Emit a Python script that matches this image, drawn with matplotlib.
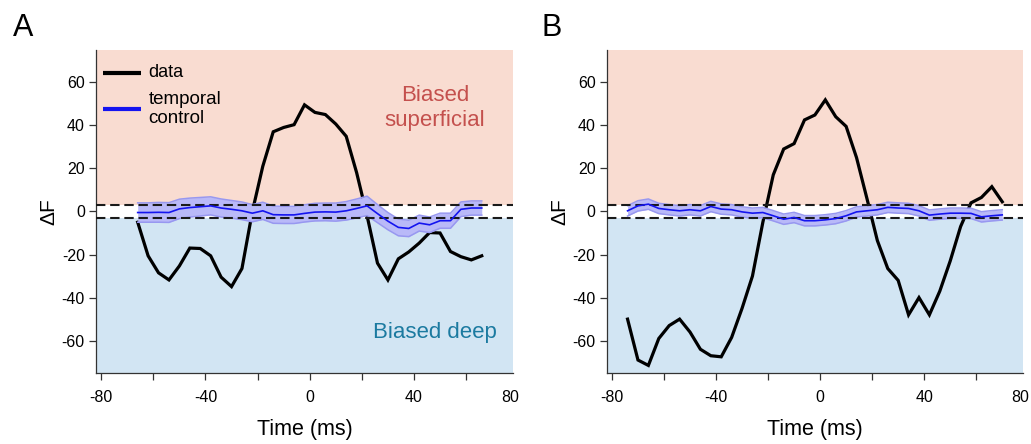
import numpy as np
import matplotlib.pyplot as plt

plt.rcParams['font.family'] = ['Liberation Sans', 'DejaVu Sans']
plt.rcParams['axes.unicode_minus'] = False

# panel A: time axis (ms) and traces
t_a = np.arange(-66, 67, 4)
data_a = [-5, -20.6, -28.5, -31.8, -25.3, -17, -17.2, -20.6, -30.5, -34.9,
          -26.5, 0, 21, 37, 39, 40.3, 49.5, 46, 45, 40.6, 34.9, 18, -2,
          -24, -31.8, -22, -18.8, -14.7, -9.8, -10, -18.6, -21, -22.5, -20.6]
ctrl_a = [-0.5, -0.5, -0.4, -0.5, 1.2, 1.8, 2.2, 2.6, 1.6, 1.0, 0.3, -0.8,
          0.3, -1.5, -1.6, -1.6, -0.9, -0.3, -0.2, -0.3, 0.3, 1.4, 2.6, -1.0,
          -4.5, -7.4, -7.9, -5.4, -6.2, -4.3, -4.3, 1.0, 1.6, 1.6]
err_a = [4.5, 4.5, 4.6, 4.6, 4.5, 4.4, 4.3, 4.2, 4.2, 4.1, 4.1, 4.0, 4.0, 4.0,
         4.0, 4.0, 4.0, 4.1, 4.1, 4.2, 4.3, 4.4, 4.5, 4.2, 4.0, 3.9, 3.8, 3.7,
         3.6, 3.5, 3.5, 3.4, 3.3, 3.3]

# panel B
t_b = np.arange(-74, 71, 4)
data_b = [-50, -69, -71.5, -59, -53, -50, -56, -64, -67, -67.5, -58.5, -45,
          -30, -5, 17, 29, 31.5, 42.5, 44.8, 51.8, 44, 39.5, 25, 6, -13.5,
          -26.5, -32, -48, -40, -48, -37, -23, -7, 4, 6.5, 11.5, 4.5]
ctrl_b = [0.3, 2.6, 3.4, 1.4, 0.8, 0.3, 0.8, 0.3, 2.3, 1.1, 0.8, -0.2, -0.8,
          -0.5, -2.0, -3.6, -2.8, -4.3, -4.3, -3.9, -3.3, -2.0, -0.2, 0.3, 0.8,
          1.9, 1.6, 1.4, 0.3, -1.7, -1.2, -0.8, -0.8, -0.9, -2.5, -2.0, -1.6]
err_b = [2.4] * len(t_b)

thresh = 3
pink = '#f9dcd1'
lightblue = '#d2e5f3'
band_fill = '#b9b9f8'
band_edge = '#9898f0'

fig = plt.figure(figsize=(10.31, 4.44), dpi=100)
ax_a = fig.add_axes([0.0931, 0.16, 0.4045, 0.7275])
ax_b = fig.add_axes([0.5885, 0.16, 0.4038, 0.7275])


def draw_panel(ax, t, data, ctrl, err):
    ax.set_xlim(-82, 78)
    ax.set_ylim(-75, 75)
    ax.axhspan(thresh, 75, color=pink, lw=0, zorder=0)
    ax.axhspan(-75, -thresh, color=lightblue, lw=0, zorder=0)

    ctrl = np.array(ctrl)
    err = np.array(err)
    ax.plot(t, data, color='black', lw=2.3, zorder=3, solid_joinstyle='miter')
    ax.fill_between(t, ctrl - err, ctrl + err, color=band_fill, lw=0, zorder=4)
    ax.plot(t, ctrl + err, color=band_edge, lw=1.1, zorder=4)
    ax.plot(t, ctrl - err, color=band_edge, lw=1.1, zorder=4)
    ax.axhline(thresh, color='#1a1a1a', ls=(0, (4.5, 2.3)), lw=1.5, zorder=4.5)
    ax.axhline(-thresh, color='#1a1a1a', ls=(0, (4.5, 2.3)), lw=1.5, zorder=4.5)
    ax.plot(t, ctrl, color='#1414f0', lw=1.2, zorder=5)

    for s in ['top', 'right']:
        ax.spines[s].set_visible(False)
    for s in ['left', 'bottom']:
        ax.spines[s].set_linewidth(0.9)
        ax.spines[s].set_color('#333333')
    ax.set_xticks(np.arange(-80, 61, 20))
    ax.set_xticklabels(['-80', '', '-40', '', '0', '', '40', ''])
    ax.set_yticks(np.arange(-60, 61, 20))
    ax.tick_params(direction='out', length=5, width=0.9, color='#333333',
                   labelsize=11.5, pad=3)
    ax.tick_params(axis='x', pad=7)
    # the 80 label is kept inside the axis end
    ax.annotate('80', xy=(77, 0), xycoords=ax.get_xaxis_transform(),
                xytext=(0, -12), textcoords='offset points',
                ha='center', va='top', fontsize=11.5)
    ax.set_xlabel('Time (ms)', fontsize=15.5, labelpad=10)
    ax.set_ylabel('ΔF', fontsize=15, labelpad=2)


draw_panel(ax_a, t_a, data_a, ctrl_a, err_a)
draw_panel(ax_b, t_b, data_b, ctrl_b, err_b)

# region labels
ax_a.text(48, 48, 'Biased\nsuperficial', color='#c4504d', fontsize=16,
          ha='center', va='center', linespacing=1.2)
ax_a.text(48, -56, 'Biased deep', color='#1b7aa0', fontsize=16,
          ha='center', va='center')

# legend
ax_a.plot([0.018, 0.108], [0.93, 0.93], transform=ax_a.transAxes,
          color='black', lw=3, solid_capstyle='butt')
ax_a.text(0.126, 0.93, 'data', transform=ax_a.transAxes, fontsize=13,
          va='center')
ax_a.plot([0.018, 0.108], [0.817, 0.817], transform=ax_a.transAxes,
          color='#1414f0', lw=3, solid_capstyle='butt')
ax_a.text(0.126, 0.817, 'temporal\ncontrol', transform=ax_a.transAxes,
          fontsize=13.5, va='center', linespacing=1.2)

fig.text(0.0125, 0.937, 'A', fontsize=22, va='center')
fig.text(0.525, 0.937, 'B', fontsize=22, va='center')

fig.savefig('out.png', dpi=100)
